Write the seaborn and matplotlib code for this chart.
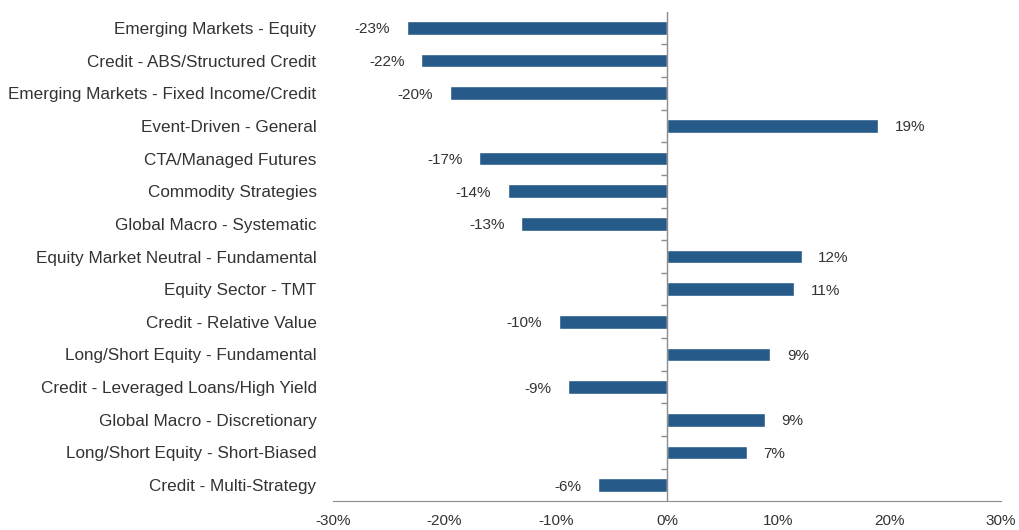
import numpy as np
import pandas as pd
import matplotlib
matplotlib.use("Agg")
import matplotlib.pyplot as plt
import seaborn as sns
from matplotlib.ticker import FuncFormatter

categories = ["Emerging Markets - Equity", "Credit - ABS/Structured Credit",
              "Emerging Markets - Fixed Income/Credit", "Event-Driven - General",
              "CTA/Managed Futures", "Commodity Strategies", "Global Macro - Systematic",
              "Equity Market Neutral - Fundamental", "Equity Sector - TMT",
              "Credit - Relative Value", "Long/Short Equity - Fundamental",
              "Credit - Leveraged Loans/High Yield", "Global Macro - Discretionary",
              "Long/Short Equity - Short-Biased", "Credit - Multi-Strategy"]
values = [-23.4, -22.1, -19.5, 19.0, -16.9, -14.3, -13.1, 12.1, 11.4,
          -9.7, 9.3, -8.9, 8.8, 7.2, -6.2]
xticks = [-30, -20, -10, 0, 10, 20, 30]

df = pd.DataFrame({"category": categories, "value": values})

sns.set_style("white")
plt.rcParams['font.family'] = ['Liberation Sans', 'DejaVu Sans']
txt = '#333333'
axis_col = '#8c8c8c'
bar_col = '#265a88'

fig = plt.figure(figsize=(10.19, 5.30), dpi=100)
ax = fig.add_axes([0.327, 0.054, 0.655, 0.924])
sns.barplot(data=df, x="value", y="category", orient="h", color=bar_col,
            width=0.42, saturation=1, ax=ax)

labels = [f"{v:.0f}%" for v in values]
for t in ax.bar_label(ax.containers[0], labels=labels, padding=12, fontsize=11, color=txt):
    t.set_va("center_baseline")

n = len(categories)
ax.set_xlim(-30, 30)
ax.set_ylim(n - 0.5, -0.5)
ax.set_xticks(xticks)
ax.xaxis.set_major_formatter(FuncFormatter(lambda v, p: f"{v:.0f}%"))
ax.set_xlabel("")
ax.set_ylabel("")

for s in ["top", "right", "left"]:
    ax.spines[s].set_visible(False)
ax.spines["bottom"].set_color(axis_col)
ax.tick_params(axis="x", length=5, color=axis_col, labelsize=11, labelcolor=txt, pad=4)
ax.tick_params(axis="y", length=0, labelsize=12.3, labelcolor=txt, pad=12)

# zero line with category boundary ticks
ax.axvline(0, color=axis_col, lw=1)
ax.hlines(np.arange(n - 1) + 0.5, -0.5, 0, color=axis_col, lw=1)

plt.savefig("out.png", dpi=100)
